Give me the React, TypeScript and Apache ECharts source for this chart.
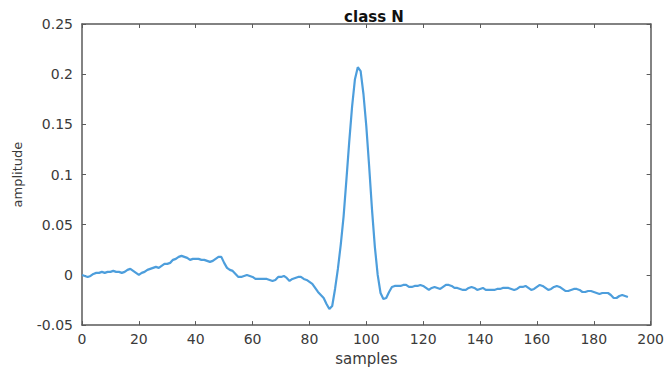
import React, { useEffect, useRef } from "react";
import * as echarts from "echarts";

const titleText = "class N";
const xName = "samples";
const yName = "amplitude";
const xTicks = { min: 0, max: 200, interval: 20 };
const yTicks = { min: -0.05, max: 0.25, interval: 0.05 };

const amplitude: number[] = [
  0.000, -0.001, -0.002, -0.001, 0.001, 0.002, 0.002, 0.003, 0.002, 0.003,
  0.003, 0.004, 0.003, 0.003, 0.002, 0.003, 0.005, 0.006, 0.004, 0.002,
  0.000, 0.002, 0.003, 0.005, 0.006, 0.007, 0.008, 0.007, 0.009, 0.011,
  0.011, 0.012, 0.015, 0.016, 0.018, 0.019, 0.018, 0.017, 0.015, 0.016,
  0.016, 0.016, 0.015, 0.015, 0.014, 0.013, 0.014, 0.016, 0.018, 0.018,
  0.012, 0.007, 0.005, 0.004, 0.001, -0.002, -0.002, -0.001, 0.000, -0.001,
  -0.002, -0.004, -0.004, -0.004, -0.004, -0.004, -0.005, -0.006, -0.005, -0.002,
  -0.002, -0.001, -0.003, -0.006, -0.004, -0.003, -0.002, -0.002, -0.004, -0.005,
  -0.007, -0.009, -0.013, -0.017, -0.020, -0.023, -0.029, -0.034, -0.031, -0.014,
  0.006, 0.030, 0.058, 0.095, 0.133, 0.168, 0.195, 0.207, 0.203, 0.180,
  0.148, 0.108, 0.065, 0.028, 0.000, -0.018, -0.024, -0.023, -0.017, -0.012,
  -0.011, -0.011, -0.011, -0.010, -0.010, -0.012, -0.012, -0.011, -0.011, -0.010,
  -0.011, -0.013, -0.015, -0.013, -0.012, -0.013, -0.014, -0.012, -0.010, -0.010,
  -0.011, -0.013, -0.013, -0.014, -0.015, -0.015, -0.013, -0.012, -0.013, -0.015,
  -0.014, -0.013, -0.015, -0.015, -0.015, -0.015, -0.014, -0.014, -0.013, -0.013,
  -0.013, -0.014, -0.015, -0.014, -0.012, -0.012, -0.011, -0.013, -0.015, -0.014,
  -0.012, -0.010, -0.011, -0.013, -0.015, -0.014, -0.012, -0.011, -0.012, -0.014,
  -0.016, -0.016, -0.015, -0.014, -0.014, -0.015, -0.017, -0.017, -0.016, -0.016,
  -0.017, -0.018, -0.019, -0.018, -0.018, -0.018, -0.020, -0.023, -0.023, -0.021,
  -0.020, -0.021, -0.022,
];

const FONT = "DejaVu Sans, Liberation Sans, Arial, sans-serif";
const AXIS_COLOR = "#5a5a5a";
const LABEL_COLOR = "#3a3a3a";

export default function App() {
  const ref = useRef<HTMLDivElement>(null);
  useEffect(() => {
    if (!ref.current) return;
    const chart = echarts.init(ref.current, undefined, { renderer: "svg" });
    const axisLine = { show: true, onZero: false, lineStyle: { color: AXIS_COLOR, width: 1.5 } };
    const tickIn = { show: true, inside: true, length: 4, lineStyle: { color: AXIS_COLOR, width: 1 } };
    chart.setOption({
      animation: false,
      backgroundColor: "#ffffff",
      title: {
        text: titleText,
        left: 369,
        textAlign: "center",
        top: 4,
        textStyle: { fontFamily: FONT, fontSize: 15, fontWeight: "bold", color: "#111" },
      },
      grid: { left: 82, right: 10, top: 24, bottom: 42, containLabel: false },
      xAxis: [
        {
          type: "value",
          position: "bottom",
          min: xTicks.min,
          max: xTicks.max,
          interval: xTicks.interval,
          name: xName,
          nameLocation: "middle",
          nameGap: 20,
          nameTextStyle: { fontFamily: FONT, fontSize: 15, color: LABEL_COLOR },
          axisLine,
          axisTick: tickIn,
          splitLine: { show: false },
          axisLabel: { fontFamily: FONT, fontSize: 14, color: LABEL_COLOR, margin: 7 },
        },
        {
          type: "value",
          position: "top",
          min: xTicks.min,
          max: xTicks.max,
          interval: xTicks.interval,
          axisLine,
          axisTick: tickIn,
          splitLine: { show: false },
          axisLabel: { show: false },
        },
      ],
      yAxis: [
        {
          type: "value",
          position: "left",
          min: yTicks.min,
          max: yTicks.max,
          interval: yTicks.interval,
          name: yName,
          nameLocation: "middle",
          nameGap: 58,
          nameRotate: 90,
          nameTextStyle: { fontFamily: FONT, fontSize: 13, color: LABEL_COLOR },
          axisLine,
          axisTick: tickIn,
          splitLine: { show: false },
          axisLabel: {
            fontFamily: FONT,
            fontSize: 14,
            color: LABEL_COLOR,
            margin: 9,
            formatter: (v: number) => String(parseFloat(v.toFixed(2))),
          },
        },
        {
          type: "value",
          position: "right",
          min: yTicks.min,
          max: yTicks.max,
          interval: yTicks.interval,
          axisLine,
          axisTick: tickIn,
          splitLine: { show: false },
          axisLabel: { show: false },
        },
      ],
      series: [
        {
          type: "line",
          xAxisIndex: 0,
          yAxisIndex: 0,
          data: amplitude.map((v, i) => [i, v]),
          showSymbol: false,
          symbol: "none",
          smooth: false,
          lineStyle: { color: "#4d9edc", width: 2.2 },
        },
      ],
    });
    return () => chart.dispose();
  }, []);
  return (
    <div
      ref={ref}
      style={{ position: "fixed", left: 0, top: 0, width: 667, height: 371 }}
    />
  );
}
